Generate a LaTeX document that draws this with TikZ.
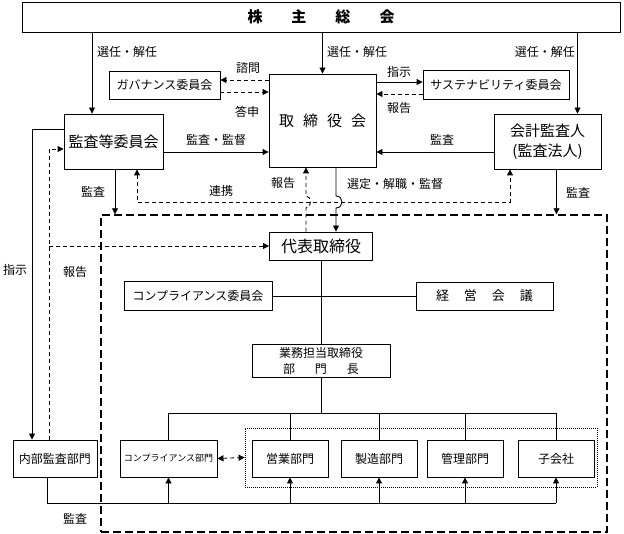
\documentclass[tikz,border=0pt]{standalone}
\usepackage{fontspec}
\setmainfont{Noto Sans CJK JP}
\usetikzlibrary{arrows.meta,calc}
\tikzset{
  x=1pt, y=-1pt,
  base/.style={font=\fontsize{12pt}{14pt}\selectfont},
  box/.style={draw, line width=0.9pt, inner sep=0pt, align=center, base},
  lbl/.style={inner sep=0pt, base},
  tip/.tip={Triangle[length=6pt,width=6pt]},
  arr/.style={line width=0.9pt, -tip},
  ln/.style={line width=0.9pt},
  dsh/.style={line width=0.9pt, dash pattern=on 4pt off 3pt},
  darr/.style={dsh, -tip},
  big/.style={font=\fontsize{15pt}{20pt}\selectfont},
}
\begin{document}
\begin{tikzpicture}
\useasboundingbox (0,0) rectangle (624,534);
% frames
\node[draw, line width=1.4pt, dash pattern=on 8pt off 4pt, minimum width=506pt, minimum height=317pt, inner sep=0pt] (frame) at (354,373.5) {};
\node[draw, line width=0.8pt, dash pattern=on 1pt off 1pt, minimum width=352pt, minimum height=59pt, inner sep=0pt] (grp) at (421,457.5) {};
% boxes
\node[box, minimum width=598pt, minimum height=30pt, font=\fontsize{15pt}{17pt}\selectfont\bfseries] (kabu) at (321,17) {株\hspace{29pt}主\hspace{29pt}総\hspace{29pt}会};
\node[box, minimum width=107pt, minimum height=93pt, big] (tk) at (322.5,120.5) {取\hspace{9pt}締\hspace{9pt}役\hspace{9pt}会};
\node[box, minimum width=111pt, minimum height=28pt] (gov) at (164.5,85) {ガバナンス委員会};
\node[box, minimum width=146pt, minimum height=29pt] (sus) at (496,84.5) {サステナビリティ委員会};
\node[box, minimum width=99pt, minimum height=55pt, big] (kansa) at (113.5,141.5) {監査等委員会};
\node[box, minimum width=107pt, minimum height=55pt, big] (kaikei) at (547.5,141.5) {会計監査人\\(監査法人)};
\node[box, minimum width=103pt, minimum height=28pt, font=\fontsize{16pt}{18pt}\selectfont] (daihyo) at (321,246) {代表取締役};
\node[box, minimum width=148pt, minimum height=29pt] (compcom) at (198,296) {コンプライアンス委員会};
\node[box, minimum width=137pt, minimum height=28pt, font=\fontsize{13pt}{15pt}\selectfont] (keiei) at (484.5,296) {経\hspace{15pt}営\hspace{15pt}会\hspace{15pt}議};
\node[box, minimum width=138pt, minimum height=33pt, font=\fontsize{12pt}{16pt}\selectfont] (bucho) at (321,360.5) {業務担当取締役\\部\hspace{20pt}門\hspace{20pt}長};
\node[box, minimum width=84pt, minimum height=37pt] (naibu) at (55,458.5) {内部監査部門};
\node[box, minimum width=97pt, minimum height=37pt, font=\fontsize{9pt}{11pt}\selectfont] (compb) at (168.5,458.5) {コンプライアンス部門};
\node[box, minimum width=76pt, minimum height=37pt] (eigyo) at (290,458.5) {営業部門};
\node[box, minimum width=76pt, minimum height=37pt] (seizo) at (379,458.5) {製造部門};
\node[box, minimum width=76pt, minimum height=37pt] (kanri) at (465,458.5) {管理部門};
\node[box, minimum width=76pt, minimum height=37pt] (ko) at (556,458.5) {子会社};
% helper coordinates
\coordinate (ya) at (0,202);
\coordinate (yb) at (0,503);
\coordinate (yt) at (0,413);
\coordinate (hx) at (306,0);
\coordinate (sx) at (336,0);
\coordinate (kw1) at ([yshift=-7.5pt]kansa.west);
\coordinate (kw2) at ([yshift=12.5pt]kansa.west);
\coordinate (nn1) at ([xshift=-6pt]naibu.north);
\coordinate (nn2) at ([xshift=-23pt]naibu.north);
\coordinate (ns) at ([xshift=-8pt]naibu.south);
\coordinate (ka1) at ([xshift=-21.5pt]kansa.north);
\coordinate (kk1) at ([xshift=30pt]kaikei.north);
\coordinate (gA) at ([yshift=5pt]gov.east);
\coordinate (gB) at ([yshift=-7pt]gov.east);
\coordinate (sA) at ([yshift=2.5pt]sus.west);
\coordinate (sB) at ([yshift=-9.5pt]sus.west);
\coordinate (kaE) at ([yshift=-10.5pt]kansa.east);
\coordinate (kkW) at ([yshift=-10.5pt]kaikei.west);
\coordinate (kaS) at ([xshift=1.5pt]kansa.south);
\coordinate (kkS) at ([xshift=9pt]kaikei.south);
\coordinate (rkL) at ([xshift=23.5pt]kansa.south);
\coordinate (rkR) at ([xshift=-37.5pt]kaikei.south);
% connectors from shareholders
\draw[arr] (kabu.south -| ka1) -- (ka1);
\draw[arr] (kabu.south -| tk.north) -- (tk.north);
\draw[arr] (kabu.south -| kk1) -- (kk1);
% governance / sustainability
\draw[darr] (gA -| tk.west) -- (gA);
\draw[darr] (gB) -- (gB -| tk.west);
\draw[arr] (sA -| tk.east) -- (sA);
\draw[darr] (sB) -- (sB -| tk.east);
% audit
\draw[arr] (kaE) -- (kaE -| tk.west);
\draw[arr] (kkW) -- (kkW -| tk.east);
\draw[arr] (kaS) -- (kaS |- frame.north);
\draw[arr] (kkS) -- (kkS |- frame.north);
% renkei
\draw[dsh, tip-tip] (rkL) -- (rkL |- ya) -- (rkR |- ya) -- (rkR);
% report to board with hop
\draw[darr] (daihyo.north -| hx) -- ($(hx |- ya)+(0,6)$) .. controls +(6,0) and +(6,0) .. ($(hx |- ya)+(0,-6)$) -- (tk.south -| hx);
% selection with hop
\draw[arr] (tk.south -| sx) -- ($(sx |- ya)+(0,-6)$) .. controls +(8,0) and +(8,0) .. ($(sx |- ya)+(0,6)$) -- (daihyo.north -| sx);
% internal audit
\draw[darr] (nn1) |- (kw1);
\draw[darr] (nn1 |- daihyo.west) -- (daihyo.west);
\draw[arr] (kw2) -| (nn2);
\draw[ln] (ns) |- (ko.south |- yb);
\foreach \n in {compb,eigyo,seizo,kanri,ko} \draw[arr] (\n.south |- yb) -- (\n.south);
% tree
\draw[ln] (daihyo.south) -- (bucho.north);
\draw[ln] (compcom.east) -- (keiei.west);
\draw[ln] (bucho.south) -- (bucho.south |- yt);
\draw[ln] (compb.north |- yt) -- (ko.north |- yt);
\foreach \n in {compb,eigyo,seizo,kanri,ko} \draw[ln] (\n.north |- yt) -- (\n.north);
\draw[dsh, tip-tip] (compb.east) -- (grp.west);
% labels
\node[lbl, anchor=west] (l1) at (97,52) {選任・解任};
\node[lbl, anchor=west] (l2) at (327,52) {選任・解任};
\node[lbl, anchor=east] (l3) at (575,52) {選任・解任};
\node[lbl] (l4) at (248,68) {諮問};
\node[lbl] (l5) at (247,112) {答申};
\node[lbl] (l6) at (399,72) {指示};
\node[lbl] (l7) at (399,108) {報告};
\node[lbl] (l8) at (216,140) {監査・監督};
\node[lbl] (l9) at (442,140) {監査};
\node[lbl] (l10) at (93,192) {監査};
\node[lbl] (l11) at (221,191) {連携};
\node[lbl] (l12) at (283,183) {報告};
\node[lbl, anchor=west] (l13) at (347,184) {選定・解職・監督};
\node[lbl] (l14) at (578,193) {監査};
\node[lbl] (l15) at (15,270) {指示};
\node[lbl] (l16) at (75,272) {報告};
\node[lbl] (l17) at (75,519) {監査};
\end{tikzpicture}
\end{document}
